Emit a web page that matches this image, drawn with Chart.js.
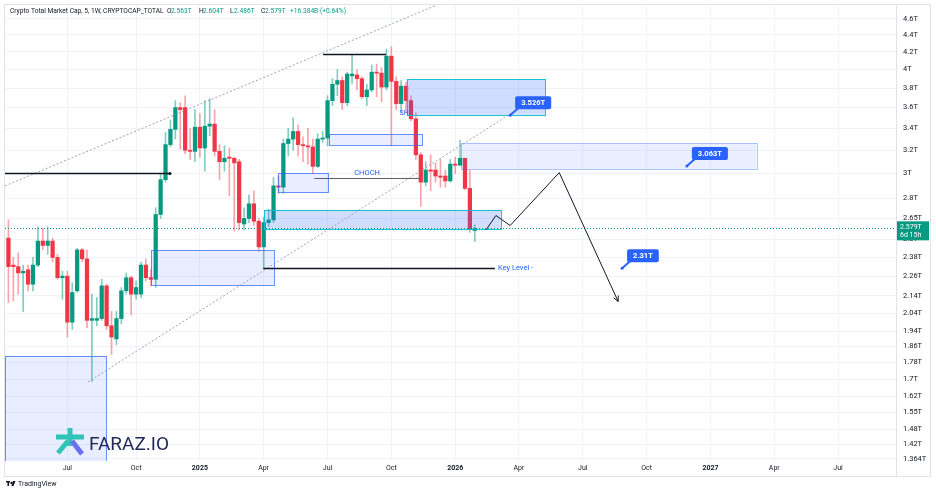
<!DOCTYPE html>
<html>
<head>
<meta charset="utf-8">
<script src="https://cdn.jsdelivr.net/npm/chart.js@4.4.1/dist/chart.umd.min.js"></script>
<style>
  html, body { margin: 0; padding: 0; background: #fff; }
  #wrap { position: relative; width: 936px; height: 492px; }
</style>
</head>
<body>
<div id="wrap"><canvas id="grafico" width="936" height="492"></canvas></div>
<script>
// weekly candles, first bar = week of 2024-04-08
const firstWeek = '2024-04-08';
const opens  = [2.51,2.33,2.32,2.28,2.30,2.21,2.33,2.49,2.46,2.49,2.38,2.25,2.26,1.99,2.17,2.43,2.37,2.00,2.00,2.01,
                2.20,1.97,1.90,2.01,2.17,2.25,2.15,2.15,2.33,2.25,2.24,2.68,2.95,3.25,3.39,3.60,3.60,3.20,3.19,3.41,
                3.22,3.42,3.44,3.19,3.10,3.14,3.13,3.10,2.61,2.65,2.76,2.63,2.45,2.62,2.64,2.90,2.89,3.26,3.30,3.37,
                3.25,3.24,3.23,3.06,3.30,3.31,3.67,3.84,3.88,3.65,3.93,3.94,3.90,3.71,3.78,3.97,3.96,3.81,4.15,3.87,
                3.64,3.82,3.67,3.49,3.16,2.93,3.03,3.03,2.98,2.98,2.94,3.08,3.07,3.13,2.88,2.563];
const highs  = [2.64,2.38,2.41,2.33,2.33,2.38,2.59,2.58,2.59,2.51,2.40,2.29,2.29,2.22,2.44,2.44,2.43,2.15,2.13,2.24,
                2.21,2.05,2.05,2.19,2.28,2.26,2.23,2.35,2.37,2.30,2.73,3.00,3.36,3.48,3.67,3.65,3.72,3.40,3.58,3.54,
                3.67,3.69,3.58,3.25,3.24,3.22,3.14,3.12,2.73,2.83,2.86,2.65,2.66,2.72,2.97,2.98,3.30,3.40,3.50,3.43,
                3.32,3.40,3.30,3.35,3.37,3.72,3.90,4.00,3.92,3.97,4.17,4.00,3.92,3.84,4.05,4.06,4.02,4.23,4.26,3.92,
                3.88,3.86,3.72,3.55,3.18,3.10,3.16,3.09,3.12,3.03,3.12,3.14,3.29,3.13,3.03,2.604];
const lows   = [2.10,2.11,2.15,2.05,2.17,2.17,2.32,2.43,2.40,2.35,2.24,2.12,1.91,1.95,2.16,2.35,1.96,1.69,1.97,2.00,
                1.95,1.82,1.87,1.98,2.15,2.03,2.12,2.13,2.23,2.20,2.19,2.65,2.93,3.23,3.30,3.21,3.17,3.12,3.10,3.14,
                3.02,3.33,3.15,2.95,3.02,2.82,2.56,2.57,2.57,2.62,2.60,2.42,2.31,2.59,2.62,2.84,2.84,3.15,3.20,3.15,
                3.10,3.08,3.00,3.05,3.27,3.24,3.62,3.72,3.58,3.62,3.85,3.78,3.69,3.62,3.76,3.71,3.66,3.78,3.24,3.58,
                3.55,3.55,3.47,3.12,2.74,2.90,2.86,2.93,2.89,2.89,2.93,3.00,3.08,2.87,2.55,2.486];
const closes = [2.32,2.32,2.28,2.29,2.21,2.33,2.49,2.46,2.49,2.38,2.25,2.26,1.99,2.16,2.43,2.37,2.00,2.01,2.01,2.20,
                1.97,1.91,2.01,2.17,2.25,2.15,2.19,2.33,2.25,2.24,2.68,2.95,3.25,3.39,3.60,3.58,3.20,3.19,3.41,3.22,
                3.42,3.44,3.19,3.10,3.13,3.13,3.09,2.62,2.65,2.76,2.63,2.45,2.62,2.64,2.90,2.89,3.26,3.30,3.37,3.25,
                3.24,3.23,3.06,3.30,3.31,3.67,3.84,3.88,3.65,3.95,3.95,3.90,3.71,3.78,3.97,3.96,3.81,4.15,3.87,3.64,
                3.82,3.67,3.49,3.16,2.93,3.03,3.02,2.98,2.97,2.94,3.08,3.07,3.13,2.88,2.57,2.579];

const lastPrice = 2.579;
const yTicks = [4.6,4.4,4.2,4,3.8,3.6,3.4,3.2,3,2.8,2.65,2.5,2.38,2.26,2.14,2.04,1.94,1.86,1.78,1.7,1.62,1.55,1.48,1.42,1.364];
const xTickLabels = ['Jul','Oct','2025','Apr','Jul','Oct','2026','Apr','Jul','Oct','2027','Apr','Jul'];
const xTickDates  = ['2024-07-01','2024-10-01','2025-01-01','2025-04-01','2025-07-01','2025-10-01','2026-01-01',
                     '2026-04-01','2026-07-01','2026-10-01','2027-01-01','2027-04-01','2027-07-01'];

// drawings, in bar index / price units
const zones = [[-0.7,19.9,1.813,1.30],[29.0,54.1,2.426,2.202],[52.1,100.3,2.714,2.575],[55.0,65.2,3.004,2.847],
               [65.2,84.2,3.348,3.245],[81.1,109.3,3.894,3.528],[92.2,152.4,3.263,3.037]];
const zoneKinds = ['light','light','teal','light','light','teal','pale'];
const levels = [[-0.7,32.9,3.006],[64.1,76.9,4.176],[62.3,83.8,2.967],[51.9,99.1,2.312]];
const levelTexts = ['','','CHOCH','Key Level -'];
const channelUpper = [[-0.7,2.90],[86.9,4.77]];
const channelLower = [[16.2,1.687],[102.6,3.548]];
const projection = [[97.3,2.568],[99.3,2.672],[102.2,2.599],[112.2,3.008],[124.2,2.107]];
const callouts = [[102.2,3.526],[138.2,3.063],[125.0,2.31]];
const shMark = [80.6,3.548];

const DAY = 86400000;
const start = Date.parse(firstWeek);
const xTicks = xTickDates.map(d => Math.ceil((Date.parse(d) - start) / DAY / 7));
const labelAt = {};
xTicks.forEach((t, i) => { labelAt[t] = xTickLabels[i]; });

const up = '#089981', down = '#f23645';
const isUp = opens.map((o, i) => closes[i] >= o);

const wickData = opens.map((o, i) => ({ x: i, y: [lows[i], highs[i]] }));
const bodyData = opens.map((o, i) => ({ x: i, y: [o, closes[i]] }));

function fmtT(v) { return v + 'T'; }

const drawings = {
  id: 'drawings',
  afterDatasetsDraw(chart) {
    const { ctx, chartArea: a, scales: { x, y } } = chart;
    const px = v => x.getPixelForValue(v), py = v => y.getPixelForValue(v);
    ctx.save();
    ctx.beginPath();
    ctx.rect(a.left, a.top, a.right - a.left, a.bottom - a.top);
    ctx.clip();

    // zones
    zones.forEach((z, i) => {
      const k = zoneKinds[i];
      const x0 = px(z[0]), x1 = px(z[1]), y0 = py(z[2]), y1 = py(z[3]);
      ctx.fillStyle = k === 'teal' ? 'rgba(41,98,255,0.22)' : (k === 'pale' ? 'rgba(41,98,255,0.1)' : 'rgba(41,98,255,0.11)');
      ctx.fillRect(x0, y0, x1 - x0, y1 - y0);
      ctx.strokeStyle = k === 'teal' ? 'rgba(0,188,212,0.9)' : (k === 'pale' ? 'rgba(41,98,255,0.35)' : 'rgba(41,98,255,0.7)');
      ctx.lineWidth = 1;
      ctx.strokeRect(Math.round(x0) + 0.5, Math.round(y0) + 0.5, Math.round(x1 - x0), Math.round(y1 - y0));
    });

    // channel lines
    ctx.strokeStyle = '#8a8d96';
    ctx.lineWidth = 0.8;
    ctx.setLineDash([2, 2]);
    [channelUpper, channelLower].forEach(l => {
      ctx.beginPath();
      ctx.moveTo(px(l[0][0]), py(l[0][1]));
      ctx.lineTo(px(l[1][0]), py(l[1][1]));
      ctx.stroke();
    });
    ctx.setLineDash([]);

    // last price line
    ctx.strokeStyle = up;
    ctx.lineWidth = 1;
    ctx.setLineDash([1, 2]);
    ctx.beginPath();
    ctx.moveTo(a.left, Math.round(py(lastPrice)) + 0.5);
    ctx.lineTo(a.right, Math.round(py(lastPrice)) + 0.5);
    ctx.stroke();
    ctx.setLineDash([]);

    // horizontal levels
    levels.forEach((l, i) => {
      const yy = Math.round(py(l[2])) + 0.5;
      ctx.strokeStyle = i === 2 ? '#5d606b' : '#131722';
      ctx.lineWidth = i === 2 ? 1 : 1.4;
      ctx.beginPath();
      ctx.moveTo(px(l[0]), yy);
      ctx.lineTo(px(l[1]), yy);
      ctx.stroke();
      if (i === 0) {
        ctx.fillStyle = '#131722';
        ctx.beginPath();
        ctx.arc(px(l[1]), yy, 1.6, 0, Math.PI * 2);
        ctx.fill();
      }
      const t = levelTexts[i];
      if (t) {
        ctx.fillStyle = '#2962ff';
        ctx.font = '7.5px Roboto';
        if (i === 2) {
          ctx.textAlign = 'center';
          ctx.textBaseline = 'bottom';
          ctx.fillText(t, (px(l[0]) + px(l[1])) / 2, yy - 2);
        } else {
          ctx.textAlign = 'left';
          ctx.textBaseline = 'middle';
          ctx.fillText(t, px(l[1]) + 3, yy);
        }
      }
    });

    // SH mark
    ctx.fillStyle = '#2962ff';
    ctx.font = '7px Roboto';
    ctx.textAlign = 'center';
    ctx.textBaseline = 'middle';
    ctx.fillText('SH', px(shMark[0]), py(shMark[1]));

    // projection path
    ctx.strokeStyle = '#131722';
    ctx.lineWidth = 1;
    ctx.beginPath();
    projection.forEach((p, i) => {
      if (i === 0) ctx.moveTo(px(p[0]), py(p[1])); else ctx.lineTo(px(p[0]), py(p[1]));
    });
    ctx.stroke();
    const n = projection.length;
    const ex = px(projection[n - 1][0]), ey = py(projection[n - 1][1]);
    const ang = Math.atan2(ey - py(projection[n - 2][1]), ex - px(projection[n - 2][0]));
    ctx.beginPath();
    ctx.moveTo(ex - 6 * Math.cos(ang - 0.45), ey - 6 * Math.sin(ang - 0.45));
    ctx.lineTo(ex, ey);
    ctx.lineTo(ex - 6 * Math.cos(ang + 0.45), ey - 6 * Math.sin(ang + 0.45));
    ctx.stroke();

    // callouts
    ctx.font = 'bold 7.5px Roboto';
    callouts.forEach(c => {
      const ax = px(c[0]), ay = py(c[1]);
      const txt = fmtT(c[1]);
      const w = ctx.measureText(txt).width + 12, h = 13;
      const bx = ax + 5, by = ay - 19;
      ctx.strokeStyle = '#2962ff';
      ctx.lineWidth = 2;
      ctx.beginPath();
      ctx.moveTo(ax, ay);
      ctx.lineTo(bx + 3, by + h - 1);
      ctx.stroke();
      ctx.fillStyle = '#2962ff';
      ctx.beginPath();
      ctx.roundRect(bx, by, w, h, 2);
      ctx.fill();
      ctx.beginPath();
      ctx.arc(ax, ay, 1.5, 0, Math.PI * 2);
      ctx.fill();
      ctx.fillStyle = '#fff';
      ctx.textAlign = 'center';
      ctx.textBaseline = 'middle';
      ctx.fillText(txt, bx + w / 2, by + h / 2 + 0.5);
    });
    ctx.restore();
  },
  afterDraw(chart) {
    const { ctx, chartArea: a, scales: { y } } = chart;
    ctx.save();
    // frame
    ctx.strokeStyle = '#e0e3eb';
    ctx.lineWidth = 1;
    ctx.strokeRect(4.5, 4.5, 926, 472);
    ctx.beginPath();
    ctx.moveTo(Math.round(a.right) + 0.5, 5);
    ctx.lineTo(Math.round(a.right) + 0.5, 476);
    ctx.stroke();

    // price tag on the axis
    const yy = y.getPixelForValue(lastPrice);
    ctx.fillStyle = up;
    ctx.fillRect(a.right + 1, yy - 7, 32, 19);
    ctx.fillStyle = '#fff';
    ctx.font = '7px Roboto';
    ctx.textAlign = 'left';
    ctx.textBaseline = 'middle';
    ctx.fillText(fmtT(lastPrice), a.right + 4, yy - 1);
    ctx.fillText('6d 15h', a.right + 4, yy + 7);

    // legend line
    ctx.textBaseline = 'middle';
    const name = 'Crypto Total Market Cap, 5, 1W, CRYPTOCAP_TOTAL';
    ctx.font = '7px Roboto';
    const fs = 7 * 154 / ctx.measureText(name).width;
    ctx.font = fs.toFixed(2) + 'px Roboto';
    ctx.fillStyle = '#131722';
    ctx.fillText(name, 10, 11);
    const parts = [['O', 167, '#131722'], ['2.563T', 171, up], ['H', 199, '#131722'], ['2.604T', 203, up],
      ['L', 230, '#131722'], ['2.486T', 234, up], ['C', 261, '#131722'], ['2.579T', 265, up],
      ['+16.384B (+0.64%)', 290, up]];
    parts.forEach(p => {
      ctx.fillStyle = p[2];
      ctx.fillText(p[0], p[1], 11);
    });

    // watermark
    ctx.lineCap = 'butt';
    ctx.strokeStyle = '#2ec4b6';
    ctx.lineWidth = 5;
    ctx.beginPath();
    ctx.moveTo(70, 428); ctx.lineTo(70, 446);
    ctx.moveTo(56, 437); ctx.lineTo(84, 437);
    ctx.moveTo(58, 453); ctx.lineTo(68, 441);
    ctx.stroke();
    ctx.strokeStyle = '#6a6ff0';
    ctx.beginPath();
    ctx.moveTo(72, 441); ctx.lineTo(82, 454);
    ctx.stroke();
    ctx.fillStyle = '#222a5c';
    ctx.font = '19px Roboto';
    ctx.textAlign = 'left';
    ctx.textBaseline = 'alphabetic';
    ctx.fillText('FARAZ.IO', 89, 450);

    // footer
    ctx.fillStyle = '#131722';
    ctx.fillRect(6, 481, 4, 1.5);
    ctx.fillRect(7.5, 481, 1.5, 5);
    ctx.beginPath();
    ctx.arc(11.5, 483, 1.2, 0, Math.PI * 2);
    ctx.fill();
    ctx.beginPath();
    ctx.moveTo(13, 481); ctx.lineTo(15.5, 481); ctx.lineTo(13.5, 486); ctx.lineTo(11.5, 486);
    ctx.fill();
    ctx.font = '7px Roboto';
    ctx.textBaseline = 'middle';
    ctx.fillText('TradingView', 18, 484);
    ctx.restore();
  }
};

new Chart(document.getElementById('grafico'), {
  type: 'bar',
  data: {
    datasets: [{
      label: 'wick',
      data: wickData,
      backgroundColor: isUp.map(u => u ? 'rgba(8,153,129,0.5)' : 'rgba(242,54,69,0.45)'),
      barThickness: 1,
      grouped: false,
      borderWidth: 0
    }, {
      label: 'body',
      data: bodyData,
      backgroundColor: isUp.map(u => u ? up : down),
      barThickness: 3.6,
      minBarLength: 1,
      grouped: false,
      borderWidth: 0
    }]
  },
  options: {
    responsive: false,
    animation: false,
    layout: { padding: { left: 5, top: 5, right: 6, bottom: 17 } },
    plugins: { legend: { display: false }, tooltip: { enabled: false } },
    scales: {
      x: {
        type: 'linear',
        min: -0.7,
        max: 180.8,
        offset: false,
        grid: { color: '#f0f3fa', offset: false, drawTicks: false },
        border: { display: false },
        ticks: {
          autoSkip: false,
          maxRotation: 0,
          padding: 3,
          color: '#131722',
          font: c => ({ family: 'Roboto', size: 7, weight: /^\d/.test(labelAt[c.tick && c.tick.value] || '') ? 'bold' : 'normal' }),
          callback: v => labelAt[v] || ''
        },
        afterBuildTicks: s => { s.ticks = xTicks.map(v => ({ value: v })); },
        afterFit: s => { s.height = 14; }
      },
      y: {
        type: 'logarithmic',
        position: 'right',
        min: 1.356,
        max: 4.78,
        beginAtZero: false,
        grid: { color: '#f0f3fa', drawTicks: true, tickLength: 7, tickColor: 'rgba(0,0,0,0)' },
        border: { display: false },
        ticks: {
          autoSkip: false,
          padding: 0,
          color: '#131722',
          font: { family: 'Roboto', size: 7.5 },
          callback: v => fmtT(v)
        },
        afterBuildTicks: s => { s.ticks = yTicks.map(v => ({ value: v })); },
        afterFit: s => { s.width = 34; }
      }
    }
  },
  plugins: [drawings]
});
</script>
</body>
</html>
